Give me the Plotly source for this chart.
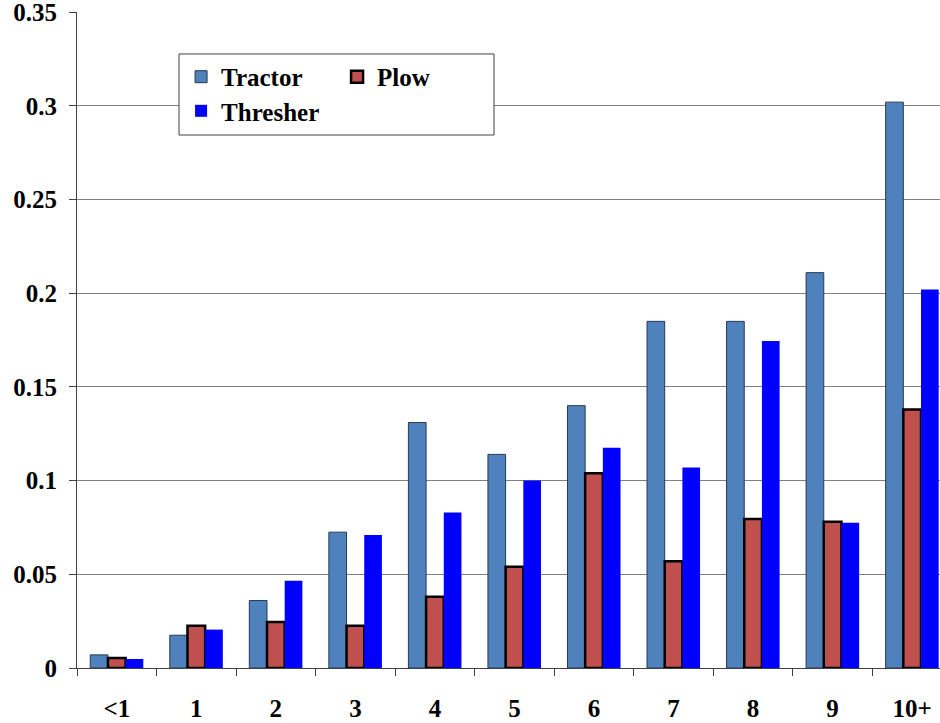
import plotly.graph_objects as go

categories = ["<1", "1", "2", "3", "4", "5", "6", "7", "8", "9", "10+"]
tractor = [0.007, 0.0175, 0.036, 0.0725, 0.131, 0.114, 0.140, 0.185, 0.185, 0.211, 0.302]
plow = [0.0053, 0.0225, 0.0245, 0.0225, 0.038, 0.054, 0.104, 0.057, 0.0795, 0.078, 0.138]
thresher = [0.0048, 0.0205, 0.0465, 0.071, 0.083, 0.100, 0.1175, 0.107, 0.1745, 0.0775, 0.202]

font_name = "Liberation Serif"

fig = go.Figure()
fig.add_trace(go.Bar(x=categories, y=tractor, name="Tractor",
                     marker=dict(color="#4F81BD", line=dict(color="#253a55", width=1)),
                     legend="legend"))
fig.add_trace(go.Bar(x=categories, y=plow, name="Plow",
                     marker=dict(color="#C0504D", line=dict(color="black", width=2.5)),
                     legend="legend"))
fig.add_trace(go.Bar(x=categories, y=thresher, name="Thresher",
                     marker=dict(color="#0000FF", line=dict(width=0)),
                     legend="legend2"))

# white box behind the two legends
fig.add_shape(type="rect", xref="paper", yref="paper",
              x0=0.1182, x1=0.4832, y0=0.8125, y1=0.936,
              line=dict(color="#404040", width=1), fillcolor="white", layer="above")

legend_font = dict(family=font_name, size=25, color="black", weight="bold")

fig.update_layout(
    width=940, height=723,
    margin=dict(l=77, r=0, t=12, b=55, autoexpand=False),
    paper_bgcolor="white", plot_bgcolor="white",
    barmode="group", bargap=0.333, bargroupgap=0,
    font=dict(family=font_name, size=25, color="black"),
    legend=dict(orientation="h", x=0.1206, xanchor="left", y=0.901, yanchor="middle",
                entrywidth=111, font=legend_font, bgcolor="rgba(0,0,0,0)", borderwidth=0),
    legend2=dict(orientation="h", x=0.1206, xanchor="left", y=0.849, yanchor="middle",
                 font=legend_font, bgcolor="rgba(0,0,0,0)", borderwidth=0),
)

fig.update_xaxes(
    type="category", range=[-0.5, 10.35], automargin=False,
    showline=True, linecolor="#404040", linewidth=1,
    ticks="outside", tickson="boundaries", ticklen=7, tickcolor="#404040",
    tickfont=dict(family=font_name, size=25, color="black", weight="bold"),
    ticklabelstandoff=18, showgrid=False,
)
fig.update_yaxes(
    range=[0, 0.3501], dtick=0.05, automargin=False,
    showline=True, linecolor="#404040", linewidth=1,
    ticks="outside", ticklen=7, tickcolor="#404040",
    showgrid=True, gridcolor="#808080", gridwidth=1,
    zeroline=False, ticklabeloverflow="allow",
    tickfont=dict(family=font_name, size=25, color="black", weight="bold"),
    ticklabelstandoff=7,
)

# drop the default page margin so the figure sits at the top-left corner
fig.write_html("out.html", config={"displayModeBar": False},
               post_script="document.body.style.margin='0';")
